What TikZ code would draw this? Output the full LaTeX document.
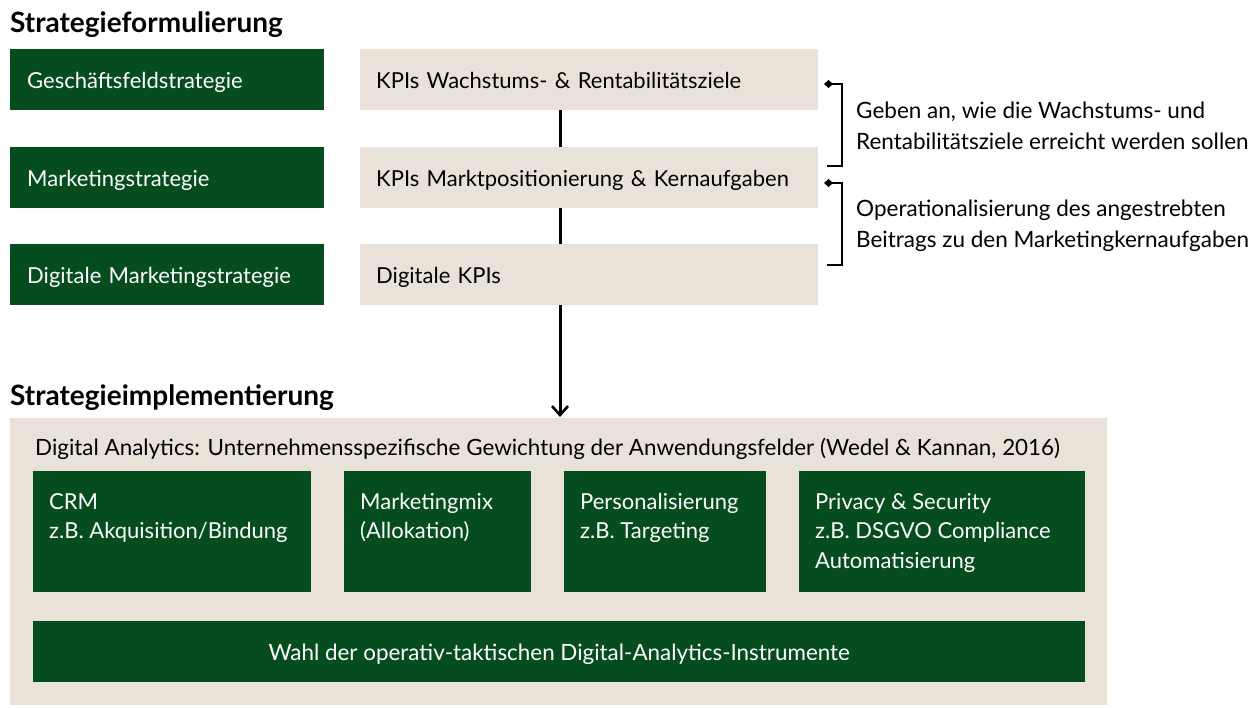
\documentclass[tikz,border=0pt]{standalone}
\usepackage{fontspec}
\setmainfont{Lato}
\usetikzlibrary{arrows.meta}
\definecolor{dgreen}{RGB}{5,77,30}
\definecolor{beige}{RGB}{232,226,217}
\tikzset{
  gbox/.style={fill=dgreen, draw=none, anchor=north west, text=white, inner xsep=17pt, inner ysep=0pt, align=left, text height=22pt, text depth=5pt, font=\fontsize{22}{26}\selectfont},
  bbox/.style={fill=beige, draw=none, anchor=north west, text=black, inner xsep=16pt, inner ysep=0pt, align=left, text height=22pt, text depth=5pt, font=\fontsize{22}{26}\selectfont},
  ttl/.style={anchor=base west, inner sep=0pt, font=\fontsize{28}{32}\selectfont\bfseries},
  itxt/.style={anchor=north west, inner sep=0pt, text=white, align=left, font=\fontsize{22}{29.5}\selectfont},
  ntxt/.style={anchor=north west, inner sep=0pt, text=black, align=left, font=\fontsize{22.5}{31}\selectfont},
  conn/.style={line width=3pt, black},
  brk/.style={line width=2.4pt, black, {Diamond[length=9pt,width=8pt]}-}
}
\begin{document}
\begin{tikzpicture}[x=1pt,y=-1pt]
\useasboundingbox (0,0) rectangle (1258,707);
% titles
\node[ttl] (t1) at (10,32) {Strategieformulierung};
\node[ttl] (t2) at (10,405) {Strategieimplementierung};
% left green boxes
\node[gbox, minimum width=314pt, minimum height=61pt, text width=280pt] (g1) at (10,49) {Geschäftsfeldstrategie};
\node[gbox, minimum width=314pt, minimum height=61pt, text width=280pt] (g2) at (10,147) {Marketingstrategie};
\node[gbox, minimum width=314pt, minimum height=61pt, text width=280pt] (g3) at (10,244) {Digitale Marketingstrategie};
% beige KPI boxes
\node[bbox, minimum width=458pt, minimum height=61pt, text width=426pt] (k1) at (360,49) {KPIs Wachstums- \& Rentabilitätsziele};
\node[bbox, minimum width=458pt, minimum height=61pt, text width=426pt] (k2) at (360,147) {KPIs Marktpositionierung \& Kernaufgaben};
\node[bbox, minimum width=458pt, minimum height=61pt, text width=426pt] (k3) at (360,244) {Digitale KPIs};
% implementation frame
\node[fill=beige, anchor=north west, minimum width=1097pt, minimum height=287pt, inner sep=0pt] (frame) at (10,418) {};
\node[ntxt, font=\fontsize{22.4}{26}\selectfont] (hdr) at (35,438) {Digital Analytics: Unternehmensspezifische Gewichtung der Anwendungsfelder (Wedel \& Kannan, 2016)};
% inner green boxes
\node[fill=dgreen, anchor=north west, minimum width=278pt, minimum height=121pt, inner sep=0pt] (crm) at (33,471) {};
\node[fill=dgreen, anchor=north west, minimum width=187pt, minimum height=121pt, inner sep=0pt] (mix) at (344,471) {};
\node[fill=dgreen, anchor=north west, minimum width=202pt, minimum height=121pt, inner sep=0pt] (pers) at (564,471) {};
\node[fill=dgreen, anchor=north west, minimum width=286pt, minimum height=121pt, inner sep=0pt] (priv) at (799,471) {};
\node[itxt] (crmt) at (49,493) {CRM\\z.B. Akquisition/Bindung};
\node[itxt] (mixt) at (360,493) {Marketingmix\\(Allokation)};
\node[itxt] (perst) at (580,493) {Personalisierung\\z.B. Targeting};
\node[itxt] (privt) at (815,493) {Privacy \& Security\\z.B. DSGVO Compliance\\Automatisierung};
\node[fill=dgreen, anchor=north west, minimum width=1052pt, minimum height=61pt, inner sep=0pt, text height=22pt, text depth=5pt, text=white, font=\fontsize{22.4}{26}\selectfont] (wahl) at (33,621) {Wahl der operativ-taktischen Digital-Analytics-Instrumente};
% connectors
\draw[conn] (k1.south -| 560,0) -- (k2.north -| 560,0);
\draw[conn] (k2.south -| 560,0) -- (k3.north -| 560,0);
\coordinate (ah) at (560,417);
\draw[conn, -{Straight Barb[length=9pt,width=16pt,line width=2.6pt]}] (k3.south -| 560,0) -- (ah);
% brackets
\coordinate (b1a) at (824,84);
\coordinate (b1b) at (827,166);
\coordinate (b2a) at (824,183);
\coordinate (b2b) at (827,265);
\draw[brk] (b1a) -- (842,84) -- (842,166) -- (b1b);
\draw[brk] (b2a) -- (842,183) -- (842,265) -- (b2b);
\node[ntxt] (n1) at (856,102) {Geben an, wie die Wachstums- und\\Rentabilitätsziele erreicht werden sollen};
\node[ntxt] (n2) at (856,200) {Operationalisierung des angestrebten\\Beitrags zu den Marketingkernaufgaben};
\end{tikzpicture}
\end{document}
